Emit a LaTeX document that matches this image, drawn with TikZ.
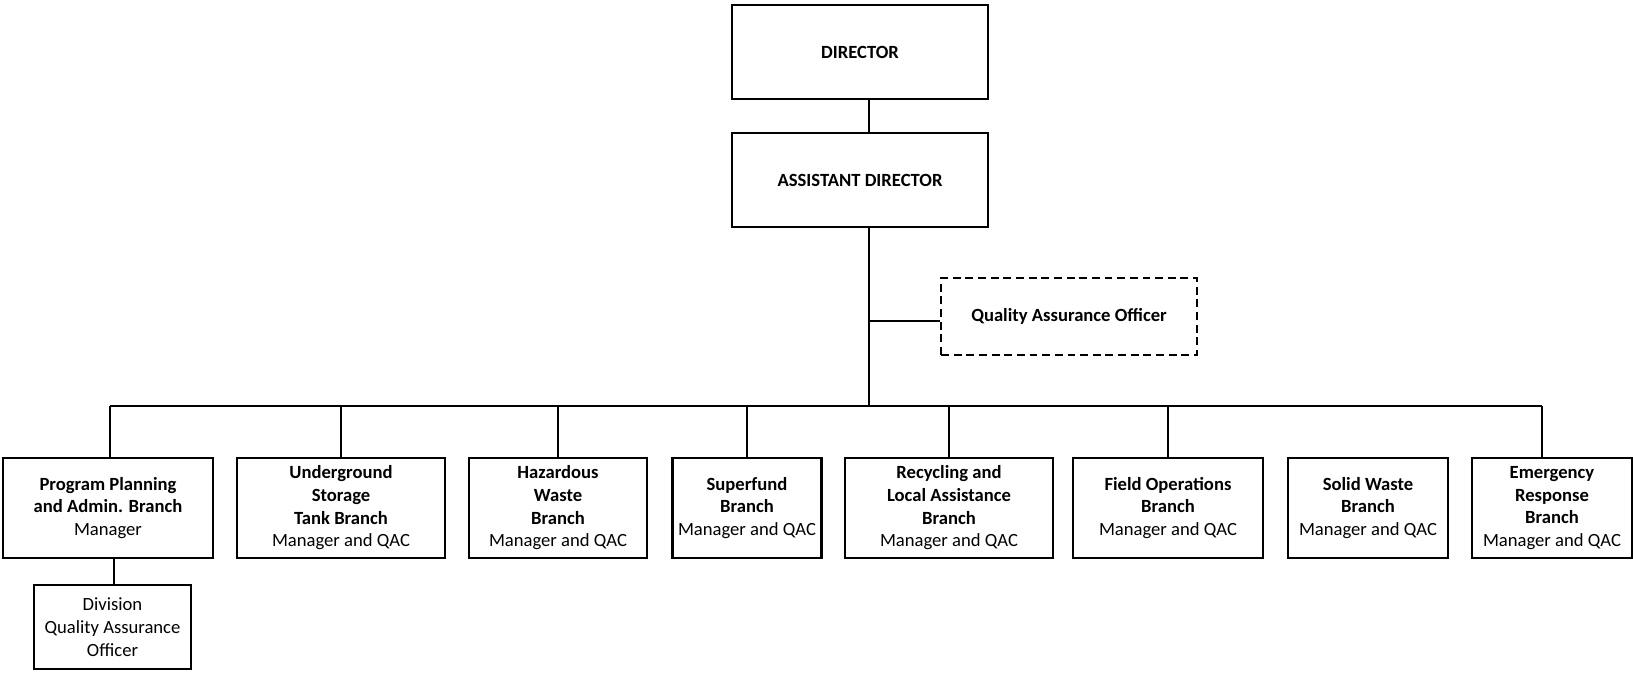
\documentclass[tikz,border=0pt]{standalone}
\usepackage{fontspec}
\setmainfont{Carlito}
\begin{document}
\begin{tikzpicture}[x=0.02cm, y=-0.02cm,
        box/.style={draw, line width=1.2pt, inner sep=0pt, align=center,
            font=\fontsize{10.6}{12.9}\selectfont},
        topbox/.style={box, minimum width=5.12cm, minimum height=1.88cm},
        branch/.style={box, minimum height=2cm},
        link/.style={line width=1.1pt}]
    \useasboundingbox (0, 0) rectangle (1633, 674);
    % top of the chart
    \node[topbox] (director) at (860, 52) {\textbf{DIRECTOR}};
    \node[topbox] (assistant) at (860, 180) {\textbf{ASSISTANT DIRECTOR}};
    \node[box, dash pattern=on 4.5pt off 2.7pt, minimum width=5.12cm, minimum height=1.54cm] (qao) at (1069, 316.5) {\textbf{Quality Assurance Officer}};
    % branches
    \node[branch, minimum width=4.2cm] (planning) at (108, 508) {\textbf{Program Planning}\\\textbf{and Admin. Branch}\\Manager};
    \node[branch, minimum width=4.16cm] (tank) at (341, 508) {\textbf{Underground}\\\textbf{Storage}\\\textbf{Tank Branch}\\Manager and QAC};
    \node[branch, minimum width=3.56cm] (hazardous) at (558, 508) {\textbf{Hazardous}\\\textbf{Waste}\\\textbf{Branch}\\Manager and QAC};
    \node[branch, minimum width=2.98cm] (superfund) at (747, 508) {\textbf{Superfund}\\\textbf{Branch}\\Manager and QAC};
    \node[branch, minimum width=4.16cm] (recycling) at (949, 508) {\textbf{Recycling and}\\\textbf{Local Assistance}\\\textbf{Branch}\\Manager and QAC};
    \node[branch, minimum width=3.8cm] (field) at (1168, 508) {\textbf{Field Operations}\\\textbf{Branch}\\Manager and QAC};
    \node[branch, minimum width=3.2cm] (solid) at (1368, 508) {\textbf{Solid Waste}\\\textbf{Branch}\\Manager and QAC};
    \node[branch, minimum width=3.2cm] (emergency) at (1552, 508) {\textbf{Emergency}\\\textbf{Response}\\\textbf{Branch}\\Manager and QAC};
    \node[box, minimum width=3.14cm, minimum height=1.68cm] (division) at (112.5, 627) {Division\\Quality Assurance\\Officer};
    % connectors
    \coordinate (trunk) at (869, 406);
    \coordinate (busleft) at (110, 406);
    \coordinate (busright) at (1542, 406);
    \coordinate (qaojoint) at (869, 320.7);
    \draw[link] (director.south -| trunk) -- (assistant.north -| trunk);
    \draw[link] (assistant.south -| trunk) -- (trunk);
    \draw[link] (qaojoint) -- (qaojoint -| qao.west);
    \draw[link] (busleft) -- (busright);
    \draw[link] (busleft) -- (busleft |- planning.north);
    \draw[link] (busright) -- (busright |- emergency.north);
    \foreach \b in {tank, hazardous, superfund, recycling, field}
        \draw[link] (\b.north |- trunk) -- (\b.north);
    \draw[link] (114, 558) coordinate (divtop) -- (divtop |- division.north);
\end{tikzpicture}
\end{document}
